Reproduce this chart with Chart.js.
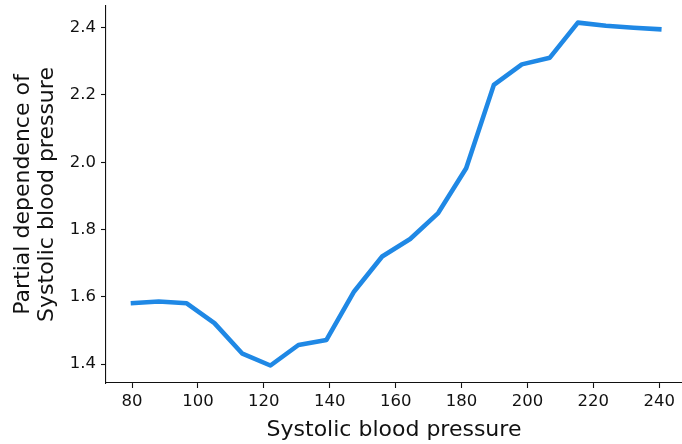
<!DOCTYPE html>
<html lang="en">
<head>
	<meta charset="utf-8">
	<title>Partial dependence</title>
	<script src="https://cdn.jsdelivr.net/npm/chart.js@4.4.0/dist/chart.umd.min.js"></script>
	<style>
		html, body {
			margin: 0;
			padding: 0;
			background: #fff;
		}

		.div-chart {
			position: relative;
			width: 682px;
			height: 444px;
		}
	</style>
</head>
<body>
	<div class="div-chart">
		<canvas id="pdp"></canvas>
	</div>
	<script>
		// Grid of systolic blood pressure values and the partial dependence at each one
		const pressure = [79.6, 88.1, 96.6, 105.0, 113.5, 122.0, 130.5, 139.0, 147.4, 155.9,
			164.4, 172.9, 181.4, 189.8, 198.3, 206.8, 215.3, 223.8, 232.2, 240.7];
		const dependence = [1.581, 1.586, 1.581, 1.522, 1.431, 1.396, 1.457, 1.472, 1.616, 1.720,
			1.772, 1.849, 1.982, 2.230, 2.291, 2.311, 2.415, 2.406, 2.400, 2.395];

		const xTicks = [80, 100, 120, 140, 160, 180, 200, 220, 240];
		const yTicks = [1.4, 1.6, 1.8, 2.0, 2.2, 2.4];

		const FONT = 'DejaVu Sans';
		const INK = '#111';

		const points = pressure.map((p, i) => ({ x: p, y: dependence[i] }));

		new Chart(document.getElementById('pdp'), {
			type: 'line',
			data: {
				datasets: [{
					data: points,
					borderColor: '#1f88e5',
					borderWidth: 4.6,
					pointRadius: 0,
					tension: 0,
					borderJoinStyle: 'round',
					fill: false
				}]
			},
			options: {
				responsive: true,
				maintainAspectRatio: false,
				animation: false,
				events: [],
				layout: { padding: { top: 6, right: 0, left: 0, bottom: 0 } },
				plugins: {
					legend: { display: false },
					tooltip: { enabled: false }
				},
				scales: {
					x: {
						type: 'linear',
						min: 72.1,
						max: 246.9,
						afterBuildTicks: (scale) => { scale.ticks = xTicks.map(v => ({ value: v })); },
						afterFit: (scale) => {
							scale.height = 61;
							scale.paddingLeft = 0;
							scale.paddingRight = 0;
						},
						border: { display: true, color: INK, width: 1.1 },
						grid: { drawOnChartArea: false, tickLength: 5, tickColor: INK, tickWidth: 1.1 },
						ticks: {
							color: INK,
							padding: 4,
							maxRotation: 0,
							font: { family: FONT, size: 16.5 },
							callback: (v) => String(v)
						},
						title: {
							display: true,
							text: 'Systolic blood pressure',
							color: INK,
							font: { family: FONT, size: 22 },
							padding: { top: 0, bottom: 1 }
						}
					},
					y: {
						min: 1.344,
						max: 2.4645,
						afterBuildTicks: (scale) => { scale.ticks = yTicks.map(v => ({ value: v })); },
						afterFit: (scale) => {
							scale.width = 106;
							scale.paddingTop = 0;
							scale.paddingBottom = 0;
						},
						border: { display: true, color: INK, width: 1.1 },
						grid: { drawOnChartArea: false, tickLength: 5, tickColor: INK, tickWidth: 1.1 },
						ticks: {
							color: INK,
							padding: 5,
							font: { family: FONT, size: 16.5 },
							callback: (v) => v.toFixed(1)
						},
						title: {
							display: true,
							text: ['Partial dependence of', 'Systolic blood pressure'],
							color: INK,
							font: { family: FONT, size: 22, lineHeight: 1.07 },
							padding: { top: 12, bottom: 0 }
						}
					}
				}
			}
		});
	</script>
</body>
</html>
